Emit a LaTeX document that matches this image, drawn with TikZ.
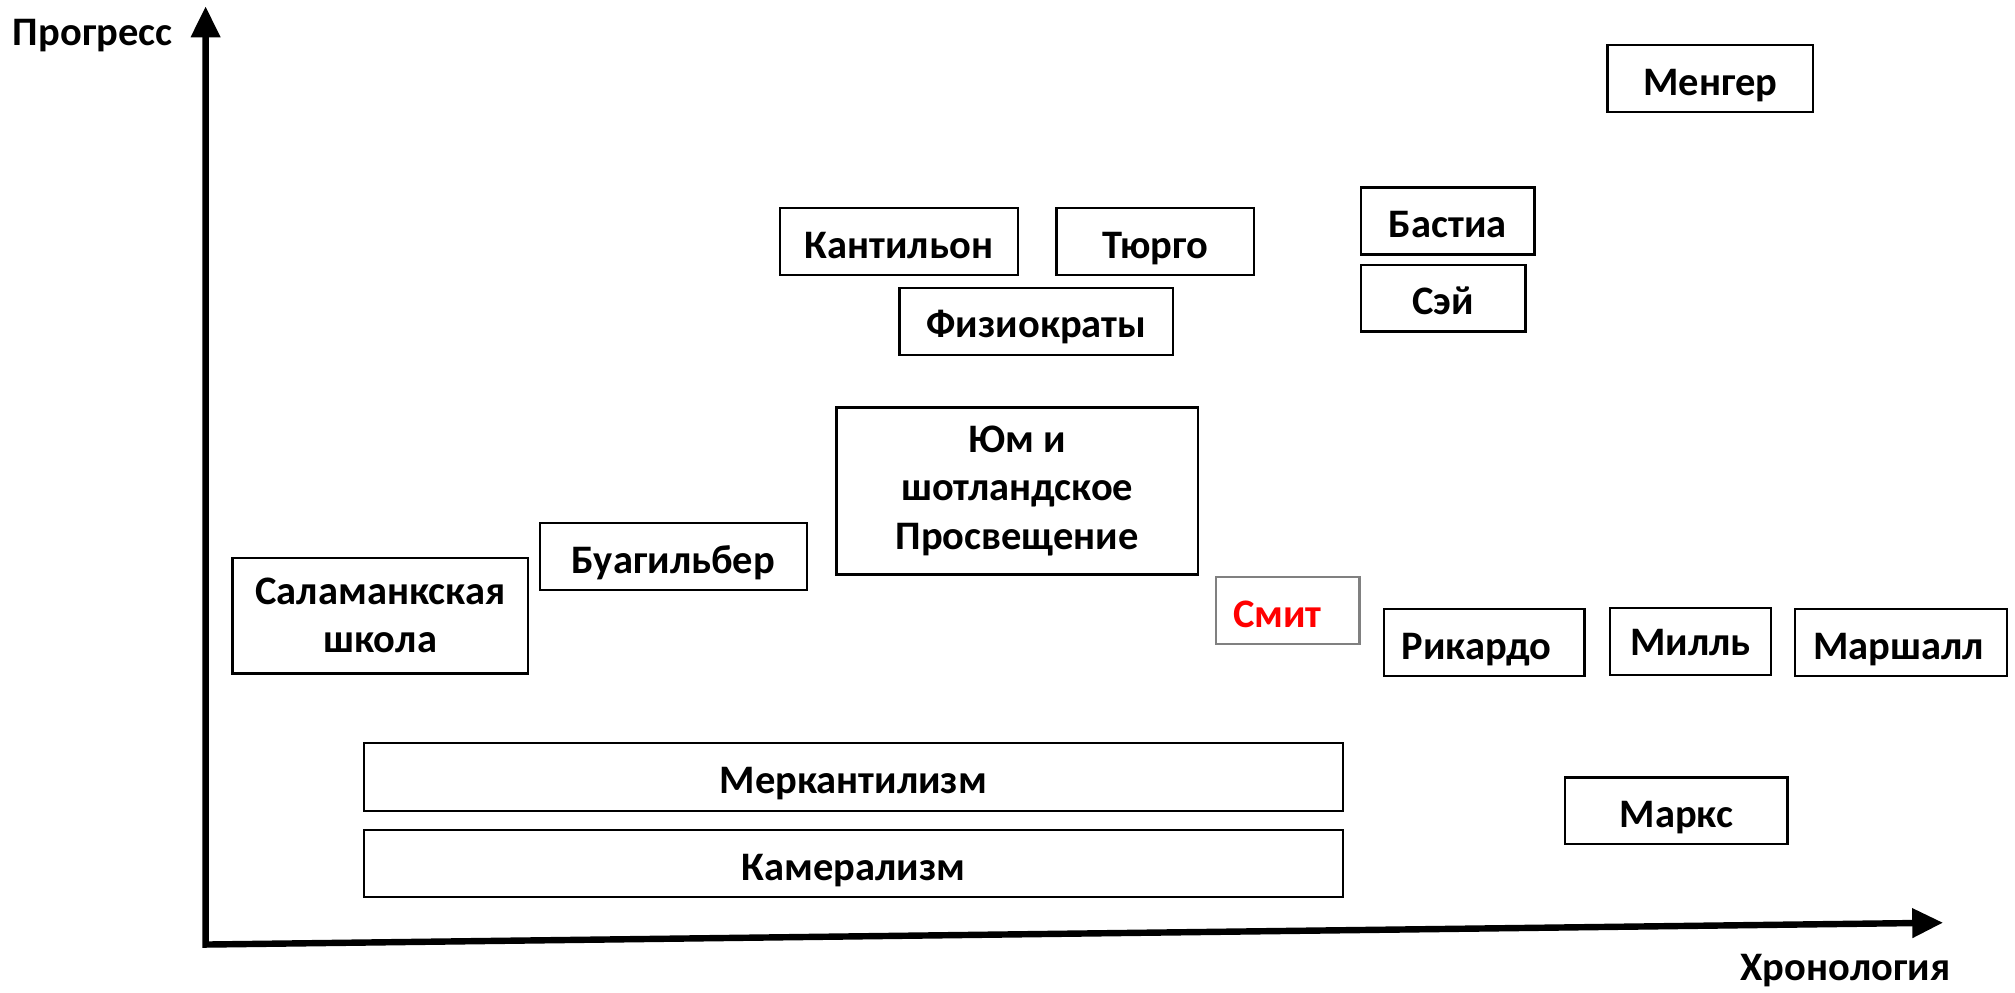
\documentclass[tikz,border=0pt]{standalone}
\usepackage{fontspec}
\setmainfont{Carlito}
\usetikzlibrary{arrows.meta}
\definecolor{smitred}{RGB}{255,0,0}
\begin{document}
\begin{tikzpicture}[x=1pt,y=-1pt,
  txt/.style={font=\fontsize{31.5}{38}\selectfont\bfseries, inner sep=0pt},
  box/.style={draw, line width=1.8pt, inner sep=0pt, align=center,
     font=\fontsize{31.5}{37.5}\selectfont\bfseries},
  one/.style={box, text height=26pt, text depth=0pt},
  axis/.style={line width=5pt, line join=miter}
]
\useasboundingbox (0,0) rectangle (1568,772);
% axes
\coordinate (O) at (160,735);
\coordinate (Ytip) at (160,5);
\coordinate (Xtip) at (1512,718);
\draw[axis, {Triangle[length=24pt,width=22pt]}-{Triangle[length=24pt,width=22pt]}] (Ytip) -- (O) -- (Xtip);
\node[txt] (prog) at (72,28) {Прогресс};
\node[txt] (chron) at (1436,755) {Хронология};
% boxes
\node[one, minimum width=160pt, minimum height=52pt] (menger) at (1331,61) {Менгер};
\node[one, minimum width=185pt, minimum height=52pt] (kant) at (699.5,188) {Кантильон};
\node[one, minimum width=154pt, minimum height=52pt] (turgo) at (899,188) {Тюрго};
\node[one, minimum width=135pt, minimum height=52pt] (bastia) at (1126.5,172) {Бастиа};
\node[one, minimum width=128pt, minimum height=52pt] (say) at (1123,232) {Сэй};
\node[one, minimum width=213pt, minimum height=52pt] (phys) at (806.5,250) {Физиократы};
\node[box, minimum width=281pt, minimum height=130pt] (hume) at (791.5,382) {\raisebox{-4pt}{\parbox{281pt}{\centering Юм и\\шотландское\\Просвещение}}};
\node[one, minimum width=208pt, minimum height=52pt] (boisg) at (524,433) {Буагильбер};
\node[box, minimum width=230pt, minimum height=90pt] (salam) at (296,479) {Саламанкская\\школа};
\node[one, draw=gray, text=smitred, minimum width=112pt, minimum height=52pt] (smith) at (1002,475) {Смит\hspace*{16pt}};
\node[one, minimum width=156pt, minimum height=52pt] (ricardo) at (1155,500) {Рикардо\hspace*{12pt}};
\node[one, minimum width=125pt, minimum height=52pt] (mill) at (1315.5,499) {\raisebox{2pt}{Милль}};
\node[one, minimum width=165pt, minimum height=52pt] (marshall) at (1479.5,500) {Маршалл\hspace*{4pt}};
\node[one, minimum width=762pt, minimum height=53pt] (merc) at (664,604.5) {Меркантилизм};
\node[one, minimum width=762pt, minimum height=52pt] (cam) at (664,672) {Камерализм};
\node[one, minimum width=173pt, minimum height=52pt] (marx) at (1304.5,631) {Маркс};
\end{tikzpicture}
\end{document}
